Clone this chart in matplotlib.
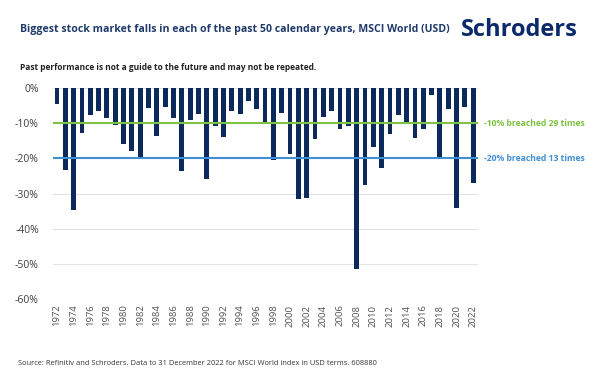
import matplotlib
matplotlib.use("Agg")
import matplotlib.pyplot as plt
import numpy as np

plt.rcParams['font.family'] = ['Open Sans', 'DejaVu Sans']

years = list(range(1972, 2023))
falls = [-4.5, -23.4, -34.6, -12.8, -7.7, -6.4, -8.4, -10.4, -15.9, -17.8,
         -19.5, -5.8, -13.6, -5.4, -8.6, -23.6, -9.1, -7.4, -25.9, -10.7,
         -13.9, -6.4, -7.5, -3.8, -5.9, -9.7, -20.5, -7.0, -18.7, -31.5,
         -31.3, -14.4, -8.2, -6.4, -11.6, -10.9, -51.4, -27.5, -16.7, -22.7,
         -13.0, -7.8, -9.9, -14.3, -11.7, -2.0, -20.0, -6.1, -34.1, -5.4, -27.0]
yticks = [0, -10, -20, -30, -40, -50, -60]
ytick_labels = ["0%", "-10%", "-20%", "-30%", "-40%", "-50%", "-60%"]
xtick_years = list(range(1972, 2023, 2))
thresholds = [-10, -20]
threshold_labels = ["-10% breached 29 times", "-20% breached 13 times"]

navy = "#0b2a5b"
green = "#7dc242"
blue = "#3f8fd2"

fig = plt.figure(figsize=(6.0, 3.87), dpi=100)
ax = fig.add_axes([0.088, 0.2274, 0.709, 0.5452])

for y in yticks:
    ax.axhline(y, color="#e3e3e3", lw=0.8, zorder=0)

ax.bar(years, falls, width=0.58, color=navy, zorder=2)

for t, lab, c in zip(thresholds, threshold_labels, [green, blue]):
    ax.axhline(t, color=c, lw=1.5, zorder=3)
    ax.text(2023.3, t, lab, color=c, fontsize=6.2, fontweight='bold',
            va='center', ha='left', clip_on=False)

ax.set_xlim(1971.5, 2022.6)
ax.set_ylim(-60, 0)
ax.set_yticks(yticks)
ax.set_yticklabels(ytick_labels, fontsize=7.5, color="#404040")
ax.set_xticks(xtick_years)
ax.set_xticklabels([str(y) for y in xtick_years], rotation=90, fontsize=6.8, color="#505050")
ax.tick_params(length=0, pad=4)
ax.tick_params(axis='y', pad=10)
for s in ax.spines.values():
    s.set_visible(False)

fig.text(0.033, 0.925, "Biggest stock market falls in each of the past 50 calendar years, MSCI World (USD)",
         fontsize=7.6, fontweight='bold', color="#1f3a6b", va='center')
fig.text(0.768, 0.922, "Schroders", fontsize=17, fontweight='bold', color="#0b2a6b", va='center')
fig.text(0.033, 0.825, "Past performance is not a guide to the future and may not be repeated.",
         fontsize=6.0, fontweight='bold', color="#222222", va='center')
fig.text(0.03, 0.062, "Source: Refinitiv and Schroders. Data to 31 December 2022 for MSCI World index in USD terms. 608880",
         fontsize=5.4, color="#333333", va='center')

fig.savefig("out.png", dpi=100)
